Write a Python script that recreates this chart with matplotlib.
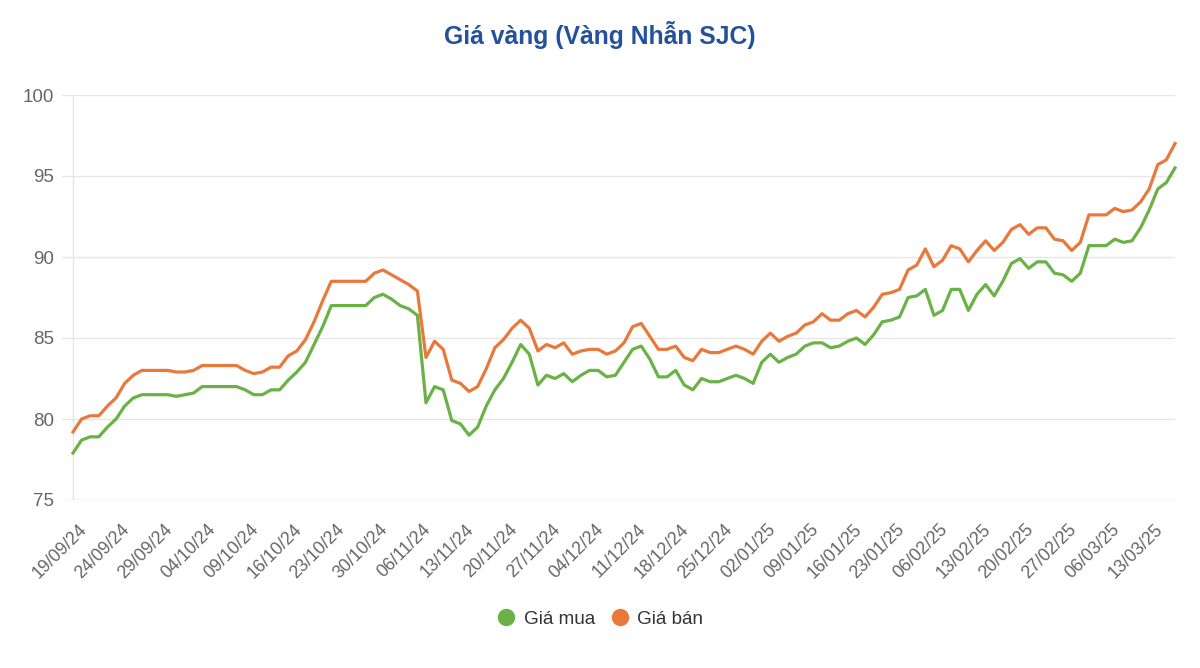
import matplotlib
matplotlib.use("Agg")
import matplotlib.pyplot as plt
from matplotlib.lines import Line2D
from matplotlib.transforms import ScaledTranslation

plt.rcParams['font.family'] = ['Liberation Sans', 'DejaVu Sans']

title = "Giá vàng (Vàng Nhẫn SJC)"
series_names = ["Giá mua", "Giá bán"]

tick_labels = ["19/09/24", "24/09/24", "29/09/24", "04/10/24", "09/10/24", "16/10/24",
               "23/10/24", "30/10/24", "06/11/24", "13/11/24", "20/11/24", "27/11/24",
               "04/12/24", "11/12/24", "18/12/24", "25/12/24", "02/01/25", "09/01/25",
               "16/01/25", "23/01/25", "06/02/25", "13/02/25", "20/02/25", "27/02/25",
               "06/03/25", "13/03/25"]
label_step = 5

gia_mua = [77.9, 78.7, 78.9, 78.9, 79.5, 80.0, 80.8, 81.3, 81.5, 81.5,
           81.5, 81.5, 81.4, 81.5, 81.6, 82.0, 82.0, 82.0, 82.0, 82.0,
           81.8, 81.5, 81.5, 81.8, 81.8, 82.4, 82.9, 83.5, 84.6, 85.7,
           87.0, 87.0, 87.0, 87.0, 87.0, 87.5, 87.7, 87.4, 87.0, 86.8,
           86.4, 81.0, 82.0, 81.8, 79.9, 79.7, 79.0, 79.5, 80.8, 81.8,
           82.5, 83.5, 84.6, 84.0, 82.1, 82.7, 82.5, 82.8, 82.3, 82.7,
           83.0, 83.0, 82.6, 82.7, 83.5, 84.3, 84.5, 83.7, 82.6, 82.6,
           83.0, 82.1, 81.8, 82.5, 82.3, 82.3, 82.5, 82.7, 82.5, 82.2,
           83.5, 84.0, 83.5, 83.8, 84.0, 84.5, 84.7, 84.7, 84.4, 84.5,
           84.8, 85.0, 84.6, 85.2, 86.0, 86.1, 86.3, 87.5, 87.6, 88.0,
           86.4, 86.7, 88.0, 88.0, 86.7, 87.7, 88.3, 87.6, 88.5, 89.6,
           89.9, 89.3, 89.7, 89.7, 89.0, 88.9, 88.5, 89.0, 90.7, 90.7,
           90.7, 91.1, 90.9, 91.0, 91.8, 92.9, 94.2, 94.6, 95.5]

gia_ban = [79.2, 80.0, 80.2, 80.2, 80.8, 81.3, 82.2, 82.7, 83.0, 83.0,
           83.0, 83.0, 82.9, 82.9, 83.0, 83.3, 83.3, 83.3, 83.3, 83.3,
           83.0, 82.8, 82.9, 83.2, 83.2, 83.9, 84.2, 84.9, 86.0, 87.3,
           88.5, 88.5, 88.5, 88.5, 88.5, 89.0, 89.2, 88.9, 88.6, 88.3,
           87.9, 83.8, 84.8, 84.3, 82.4, 82.2, 81.7, 82.0, 83.1, 84.4,
           84.9, 85.6, 86.1, 85.6, 84.2, 84.6, 84.4, 84.7, 84.0, 84.2,
           84.3, 84.3, 84.0, 84.2, 84.7, 85.7, 85.9, 85.1, 84.3, 84.3,
           84.5, 83.8, 83.6, 84.3, 84.1, 84.1, 84.3, 84.5, 84.3, 84.0,
           84.8, 85.3, 84.8, 85.1, 85.3, 85.8, 86.0, 86.5, 86.1, 86.1,
           86.5, 86.7, 86.3, 86.9, 87.7, 87.8, 88.0, 89.2, 89.5, 90.5,
           89.4, 89.8, 90.7, 90.5, 89.7, 90.4, 91.0, 90.4, 90.9, 91.7,
           92.0, 91.4, 91.8, 91.8, 91.1, 91.0, 90.4, 90.9, 92.6, 92.6,
           92.6, 93.0, 92.8, 92.9, 93.4, 94.2, 95.7, 96.0, 97.0]

colors = ["#6ab246", "#e8793a"]
y_ticks = [75, 80, 85, 90, 95, 100]

fig = plt.figure(figsize=(12, 6.68), dpi=100)
ax = fig.add_axes([62 / 1200, 1 - 500 / 668, (1175 - 62) / 1200, (500 - 95) / 668])

x = list(range(len(gia_mua)))
n = len(x)
for vals, c, name in zip([gia_mua, gia_ban], colors, series_names):
    ax.plot(x, vals, color=c, lw=2.3, solid_joinstyle='round', label=name, clip_on=False, zorder=3)

px_per_pt = (1175 - 73) / (n - 1)
ax.set_xlim(-(73 - 62) / px_per_pt, n - 1)
ax.set_ylim(75, 100)
ax.set_yticks(y_ticks)
ax.set_yticklabels([str(v) for v in y_ticks])
for v in y_ticks:
    ax.axhline(v, color="#e6e6e6" if v != 75 else "#d6d6d6", lw=1, zorder=1)
ax.axvline(0, color="#e6e6e6", lw=1, zorder=1)

for s in ax.spines.values():
    s.set_visible(False)

ax.tick_params(axis='y', length=0, pad=6, labelsize=13.5, labelcolor="#666666")
ax.tick_params(axis='x', length=0, pad=15, labelsize=12.8, labelcolor="#666666")

tick_pos = [i * label_step for i in range(len(tick_labels))]
ax.set_xticks(tick_pos)
ax.set_xticklabels(tick_labels)
offset = ScaledTranslation(5 / 100, 0, fig.dpi_scale_trans)
for lab in ax.get_xticklabels():
    lab.set_rotation(45)
    lab.set_ha('right')
    lab.set_va('top')
    lab.set_rotation_mode('anchor')
    lab.set_transform(lab.get_transform() + offset)

fig.text(0.5, 1 - 35 / 668, title, ha='center', va='center', fontsize=17.8,
         fontweight='bold', color="#24509c")

handles = [Line2D([], [], marker='o', ls='none', markersize=11.5, color=c) for c in colors]
fig.legend(handles, series_names, loc='center', bbox_to_anchor=(0.5, 1 - 619 / 668),
           ncol=2, frameon=False, fontsize=13.6, labelcolor="#333333",
           handletextpad=0.42, columnspacing=0.8, handlelength=1.0)

fig.savefig("out.png", dpi=100)
